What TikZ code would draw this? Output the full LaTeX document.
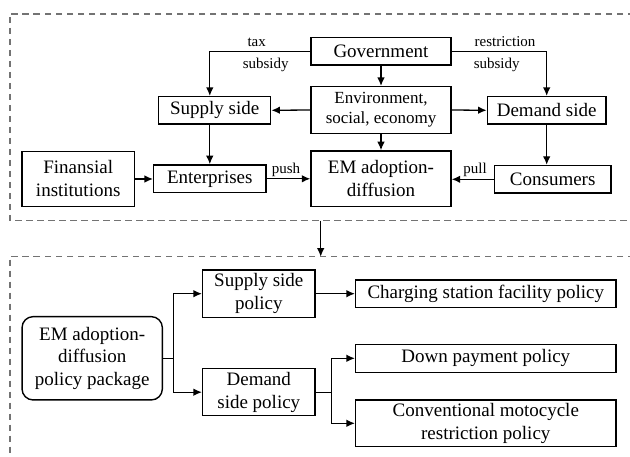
\documentclass[tikz,border=0pt]{standalone}
\usepackage{fontspec}
\setmainfont{Liberation Serif}
\usetikzlibrary{arrows.meta,positioning}
\definecolor{framegray}{RGB}{115,115,115}
\tikzset{
  box/.style={draw, line width=1.4pt, inner sep=0pt, align=center,
    font=\fontsize{19}{23}\selectfont},
  envbox/.style={box, font=\fontsize{17}{20}\selectfont},
  rbox/.style={box, rounded corners=11pt, font=\fontsize{19}{22.5}\selectfont},
  lab/.style={font=\fontsize{15}{18}\selectfont, inner sep=0pt},
  arr/.style={line width=1.3pt, -{Latex[length=8.5pt,width=7.5pt]}},
  frame/.style={draw=framegray, line width=1.6pt, dash pattern=on 6.5pt off 4.5pt}
}
\begin{document}
\begin{tikzpicture}[x=1pt,y=-1pt]
\useasboundingbox (0,0) rectangle (630,457);
\clip (0,0) rectangle (630,457);

% two dashed frames, both running past the right and lower edges
\draw[frame] (645,14) -- (10,14) -- (10,220.7) -- (645,220.7);
\draw[frame] (645,256.7) -- (10,256.7) -- (10,470);

% ---- upper part: actors ----
\node[box, minimum width=140pt, minimum height=27.3pt] (gov) at (381,51.3) {Government};
\node[envbox, minimum width=140pt, minimum height=46.7pt] (env) at (381,110) {Environment,\\social, economy};
\node[box, minimum width=140pt, minimum height=55.7pt] (em) at (381,178.8) {EM adoption-\\diffusion};
\node[box, minimum width=112pt, minimum height=27.3pt] (sup) at (214.7,110.3) {Supply side};
\node[box, minimum width=118.7pt, minimum height=27.3pt] (dem) at (546.7,110.3) {Demand side};
\node[box, minimum width=112.3pt, minimum height=27.7pt] (ent) at (209.8,178.8) {Enterprises};
\node[box, minimum width=112.3pt, minimum height=55.4pt] (fin) at (78.2,179) {Finansial\\institutions};
\node[box, minimum width=116.7pt, minimum height=27.6pt] (con) at (552.7,179.3) {Consumers};

\draw[arr] (gov.west) -| (sup.north -| ent.north);
\draw[arr] (gov.east) -| (dem.north);
\draw[arr] (gov.south) -- (env.north);
\draw[arr] (env.south) -- (em.north);
\draw[arr] (env.west) -- (sup.east);
\draw[arr] (env.east) -- (dem.west);
\draw[arr] (sup.south -| ent.north) -- (ent.north);
\draw[arr] (dem.south) -- (dem.south |- con.north);
\draw[arr] (fin.east) -- (fin.east -| ent.west);
\draw[arr] (ent.east) -- (ent.east -| em.west);
\draw[arr] (con.west) -- (con.west -| em.east);

\node[lab] (ltax) at (256.7,42) {tax};
\node[lab] (lsub1) at (265.7,65) {subsidy};
\node[lab] (lres) at (505,42) {restriction};
\node[lab] (lsub2) at (496.7,65) {subsidy};
\node[lab] (lpush) at (286,170) {push};
\node[lab] (lpull) at (475,170) {pull};

% link from the upper frame to the lower frame
\coordinate (upout) at (320.7,220.7);
\coordinate (downin) at (320.7,256.7);
\draw[arr] (upout) -- (downin);

% ---- lower part: policy package ----
\node[rbox, minimum width=140.3pt, minimum height=83.3pt] (pkg) at (92.2,358.3) {EM adoption-\\diffusion\\policy package};
\node[box, minimum width=112.3pt, minimum height=47.3pt] (spp) at (258.8,293.7) {Supply side\\policy};
\node[box, minimum width=112.3pt, minimum height=47pt] (dsp) at (258.8,392.2) {Demand\\side policy};
\node[box, minimum width=260.3pt, minimum height=27.3pt] (chg) at (485.8,293.7) {Charging station facility policy};
\node[box, minimum width=260.3pt, minimum height=28pt] (dpp) at (485.8,358.3) {Down payment policy};
\node[box, minimum width=260.3pt, minimum height=46.7pt] (cmr) at (485.8,423.3) {Conventional motocycle\\restriction policy};

\coordinate (bra) at (173.3,358.3);
\draw[line width=1.3pt] (pkg.east) -- (bra);
\draw[arr] (bra) |- (spp.west);
\draw[arr] (bra) |- (dsp.west);
\draw[arr] (spp.east) -- (chg.west);

\coordinate (brb) at (331.7,392.2);
\draw[line width=1.3pt] (dsp.east) -- (brb);
\draw[arr] (brb) |- (dpp.west);
\draw[arr] (brb) |- (cmr.west);
\end{tikzpicture}
\end{document}
